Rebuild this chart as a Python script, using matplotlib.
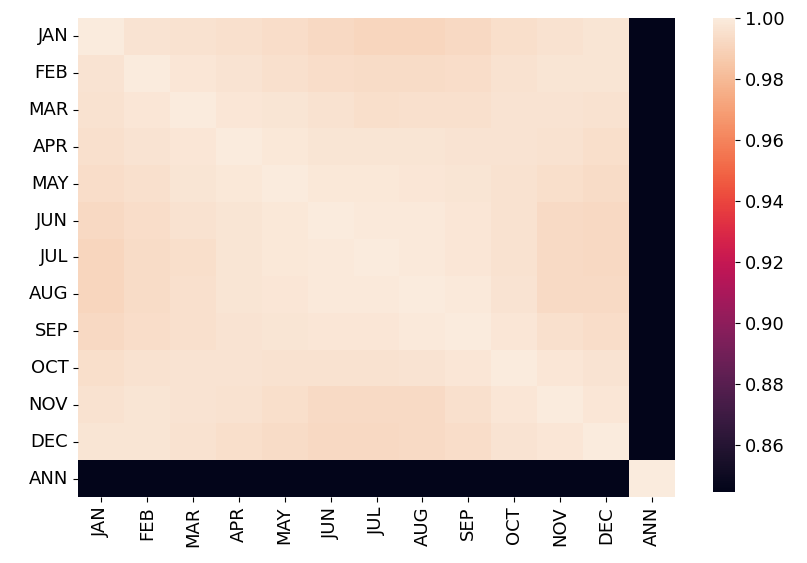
import numpy as np
import pandas as pd
import matplotlib
matplotlib.use("Agg")
import matplotlib.pyplot as plt
import seaborn as sns

meses = ['JAN', 'FEB', 'MAR', 'APR', 'MAY', 'JUN', 'JUL', 'AUG', 'SEP', 'OCT', 'NOV', 'DEC', 'ANN']

# Triángulo superior de la matriz de correlación (estimado de la imagen)
fila_jan = [1.000, 0.9965, 0.9962, 0.9952, 0.9940, 0.9925, 0.9912, 0.9912, 0.9925, 0.9950, 0.9962, 0.9972, 0.8445]
fila_feb = [1.000, 0.9978, 0.9968, 0.9955, 0.9940, 0.9937, 0.9937, 0.9940, 0.9962, 0.9975, 0.9975, 0.8446]
fila_mar = [1.000, 0.9980, 0.9970, 0.9958, 0.9948, 0.9952, 0.9952, 0.9965, 0.9965, 0.9962, 0.8447]
fila_apr = [1.000, 0.9982, 0.9972, 0.9972, 0.9970, 0.9968, 0.9965, 0.9962, 0.9950, 0.8448]
fila_may = [1.000, 0.9983, 0.9982, 0.9980, 0.9972, 0.9962, 0.9950, 0.9937, 0.8447]
fila_jun = [1.000, 0.9990, 0.9988, 0.9980, 0.9962, 0.9930, 0.9925, 0.8446]
fila_jul = [1.000, 0.9990, 0.9980, 0.9962, 0.9928, 0.9925, 0.8446]
fila_aug = [1.000, 0.9988, 0.9965, 0.9930, 0.9928, 0.8446]
fila_sep = [1.000, 0.9978, 0.9952, 0.9940, 0.8446]
fila_oct = [1.000, 0.9978, 0.9965, 0.8445]
fila_nov = [1.000, 0.9978, 0.8445]
fila_dec = [1.000, 0.8444]
fila_ann = [1.000]

filas = [fila_jan, fila_feb, fila_mar, fila_apr, fila_may, fila_jun, fila_jul,
         fila_aug, fila_sep, fila_oct, fila_nov, fila_dec, fila_ann]

n = len(meses)
corr = np.zeros((n, n))
for i, fila in enumerate(filas):
    corr[i, i:] = fila
    corr[i:, i] = fila
df = pd.DataFrame(corr, index=meses, columns=meses)

fig = plt.figure(figsize=(8.07, 5.63), dpi=100)
ax = fig.add_axes([0.0967, 0.1172, 0.7397, 0.851])
cax = fig.add_axes([0.8835, 0.126, 0.0273, 0.842])

sns.heatmap(df, ax=ax, cbar_ax=cax)

ax.tick_params(labelsize=13)
ax.set_yticklabels(meses, rotation=0)
ax.set_xticklabels(meses, rotation=90)
cax.tick_params(labelsize=13)

fig.savefig("out.png", dpi=100)
